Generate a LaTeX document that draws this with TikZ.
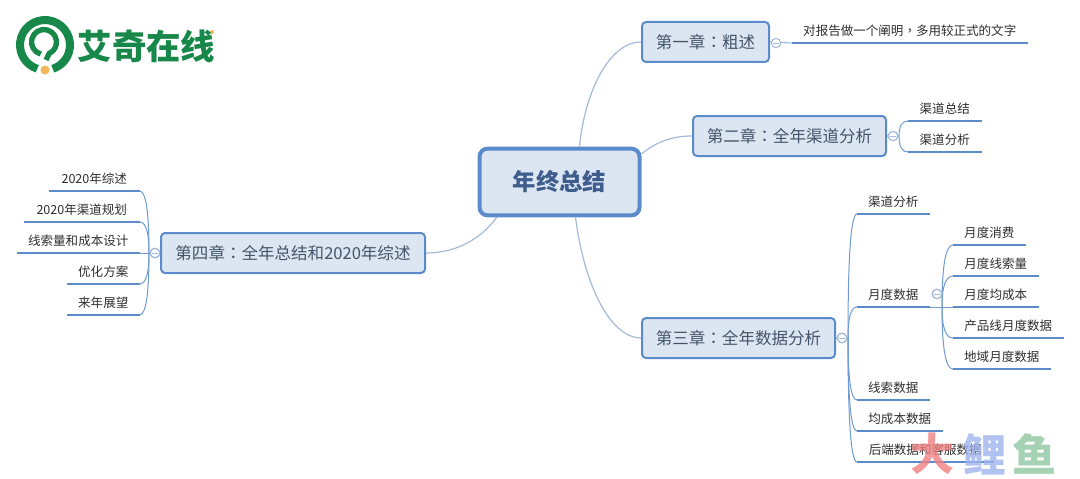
\documentclass[tikz,border=0pt]{standalone}
\usepackage{fontspec}
\usetikzlibrary{calc}
\setmainfont{Noto Sans CJK SC}
\newfontfamily\tcfont{Noto Sans CJK TC}
\definecolor{boxfill}{HTML}{DCE6F2}
\definecolor{boxline}{HTML}{5B8BCB}
\definecolor{boxtext}{HTML}{44546A}
\definecolor{roottext}{HTML}{3E5C8C}
\definecolor{rootlink}{HTML}{A3BAD8}
\definecolor{forklink}{HTML}{6E9AD0}
\definecolor{logogreen}{HTML}{17884A}
\definecolor{logodot}{HTML}{F2B65A}
\definecolor{stampred}{HTML}{F08080}
\definecolor{stampblue}{HTML}{9FB4EE}
\definecolor{stampgreen}{HTML}{8FC79F}
\newcommand{\forkline}[2]{\draw[fork] (#1) .. controls ($(#1)!.67!(#1 |- #2)$) and ($(#2)!.67!(#1 |- #2)$) .. (#2);}
\begin{document}
\begin{tikzpicture}[x=.75pt,y=-.75pt,
  chapter/.style={draw=boxline,fill=boxfill,rounded corners=3pt,line width=1.5pt,inner sep=0pt,minimum width=#1*.75pt,minimum height=30pt,text=boxtext,font=\fontsize{12.4}{14}\selectfont},
  rootbox/.style={draw=boxline,fill=boxfill,rounded corners=6pt,line width=3pt,inner sep=0pt,minimum width=120pt,minimum height=50pt,text=roottext,font=\fontsize{17.5}{20}\selectfont\bfseries},
  leaf/.style={anchor=south west,inner sep=0pt,minimum width=#1*.75pt,minimum height=18pt,text=black!82,font=\fontsize{9.4}{11}\selectfont,
    append after command={(\tikzlastnode.south west) edge[line width=2.2pt,draw=boxline] (\tikzlastnode.south east)}},
  toggle/.style={circle,draw=rootlink,fill=white,line width=.8pt,inner sep=0pt,minimum size=7pt,
    path picture={\draw[rootlink,line width=.6pt] ([xshift=-2pt]path picture bounding box.center) -- ([xshift=2pt]path picture bounding box.center);}},
  rootlnk/.style={draw=rootlink,line width=.9pt},
  fork/.style={draw=forklink,line width=.75pt},
  stamp/.style={font=\fontsize{33}{36}\selectfont\bfseries,opacity=.8,inner sep=0pt}]
\useasboundingbox (0,0) rectangle (1080,478);

% logo
\draw[logogreen,line width=6pt] ([shift={(108:25)}]45,45) arc[start angle=108,end angle=432,radius=25];
\draw[logogreen,line width=4pt] ([shift={(105:12.5)}]44,42) arc[start angle=105,end angle=425,radius=12.5] -- (46,60);
\fill[logodot] (45,70) circle[radius=4.5];
\fill[logodot] (212,32) circle[radius=2];
\node[text=logogreen,inner sep=0pt,font=\fontsize{25.8}{28}\selectfont\bfseries] (logo) at (146.5,46) {艾奇在线};

% root and chapters
\node[rootbox] (root) at (559.5,182) {年终总结};
\node[chapter=127] (c1) at (705.5,42) {第一章{\tcfont ：}粗述};
\node[chapter=193] (c2) at (789.5,136) {第二章{\tcfont ：}全年渠道分析};
\node[chapter=193] (c3) at (738.5,338) {第三章{\tcfont ：}全年数据分析};
\node[chapter=264] (c4) at (293,253) {第四章{\tcfont ：}全年总结和2020年综述};

\draw[rootlnk] ([xshift=15pt]root.north) .. controls (585,90) and (610,42) .. (c1.west);
\draw[rootlnk] ([yshift=21pt]root.east) .. controls (655,143) and (670,136) .. (c2.west);
\draw[rootlnk] ([xshift=12pt]root.south) .. controls (585,290) and (612,338) .. (c3.west);
\draw[rootlnk] ([xshift=-47pt]root.south) .. controls (480,240) and (455,253) .. (c4.east);

% chapter 1
\node[leaf=235] (a1) at (792,43) {对报告做一个阐明{\tcfont ，}多用较正式的文字};
\draw[rootlnk] (c1.east) -- (a1.south west);
\node[toggle] (t1) at (776,43) {};

% chapter 2
\node[leaf=73] (b1) at (908,121) {渠道总结};
\node[leaf=73] (b2) at (908,152) {渠道分析};
\coordinate (f2) at (899,136);
\draw[rootlnk] (c2.east) -- (f2);
\foreach \n in {b1,b2}
  \forkline{f2}{\n.south west}
\node[toggle] (t2) at (893,136) {};

% chapter 3
\node[leaf=72] (d1) at (857,214) {渠道分析};
\node[leaf=72] (d2) at (857,307) {月度数据};
\node[leaf=72] (d3) at (857,400) {线索数据};
\node[leaf=85] (d4) at (857,431) {均成本数据};
\node[leaf=136] (d5) at (857,462) {后端数据和客服数据};
\coordinate (f3) at (848,338);
\draw[rootlnk] (c3.east) -- (f3);
\foreach \n in {d1,d2,d3,d4,d5}
  \forkline{f3}{\n.south west}
\node[toggle] (t3) at (842,338) {};

\node[leaf=72] (e1) at (953,245) {月度消费};
\node[leaf=85] (e2) at (953,276) {月度线索量};
\node[leaf=85] (e3) at (953,307) {月度均成本};
\node[leaf=110] (e4) at (953,338) {产品线月度数据};
\node[leaf=97] (e5) at (953,369) {地域月度数据};
\coordinate (f4) at (942,307);
\draw[fork] (d2.south east) -- (e3.south west);
\foreach \n in {e1,e2,e4,e5}
  \forkline{f4}{\n.south west}
\node[toggle] (t4) at (937,294) {};

% chapter 4
\node[leaf=90] (g1) at (49,191) {2020年综述};
\node[leaf=115] (g2) at (24,222) {2020年渠道规划};
\node[leaf=122] (g3) at (17,253) {线索量和成本设计};
\node[leaf=72] (g4) at (67,284) {优化方案};
\node[leaf=72] (g5) at (67,315) {来年展望};
\coordinate (f5) at (149,253);
\draw[fork] (c4.west) -- (g3.south east);
\foreach \n in {g1,g2,g4,g5}
  \forkline{f5}{\n.south east}
\node[toggle] (t5) at (155,253) {};

% watermark
\node[stamp,text=stampred] (w1) at (932,454) {大};
\node[stamp,text=stampblue] (w2) at (984,454) {鲤};
\node[stamp,text=stampgreen] (w3) at (1034,454) {鱼};
\end{tikzpicture}
\end{document}
